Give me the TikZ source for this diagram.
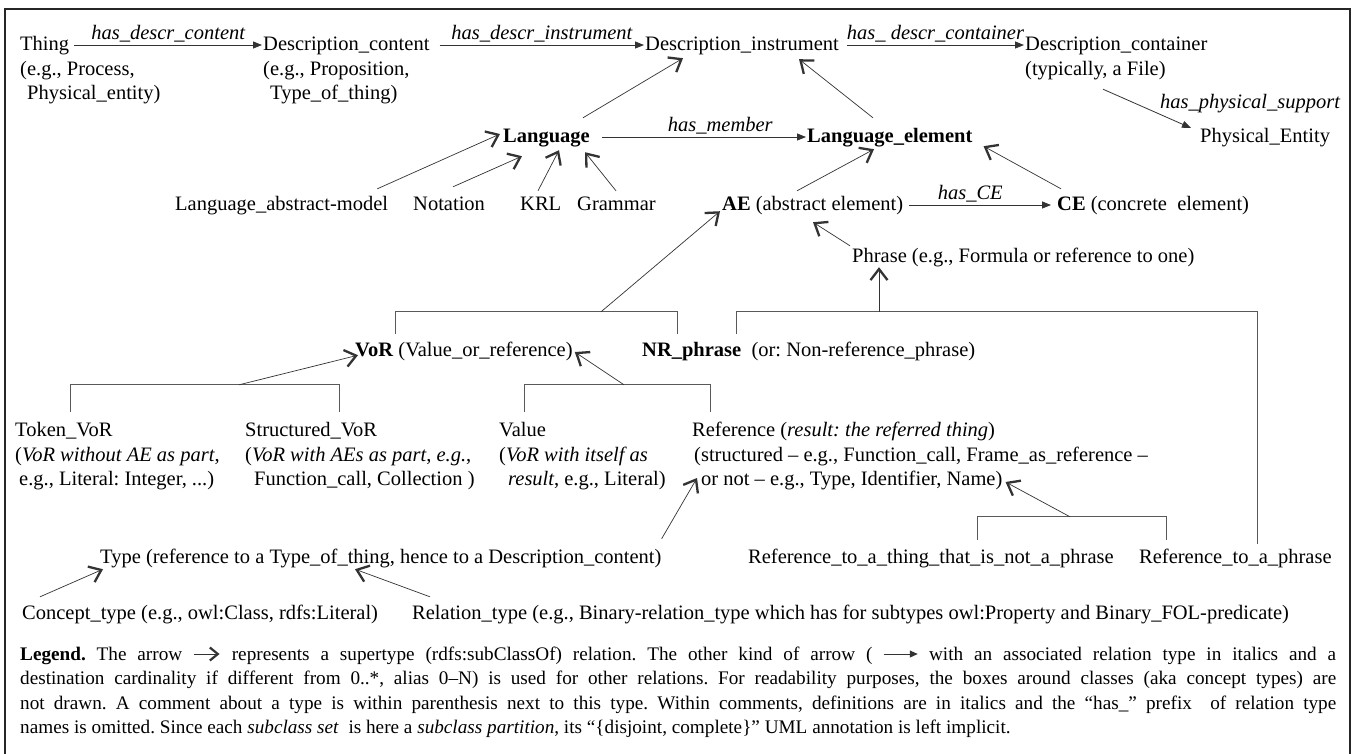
\documentclass[tikz,border=0pt]{standalone}
\usepackage{fontspec}
\setmainfont{Liberation Serif}
\usetikzlibrary{arrows.meta,calc}
\begin{document}
\begin{tikzpicture}[x=1pt,y=-1pt,font=\fontsize{20.5}{24.5}\selectfont\frenchspacing,
  tx/.style={anchor=base west,inner sep=0pt,text height=15pt,text depth=5pt},
  lbl/.style={font=\fontsize{20.5}{24.5}\selectfont\itshape,inner sep=1pt},
  rel/.style={draw=black!80,line width=0.8pt,-{Triangle[length=9pt,width=7pt]}},
  sub/.style={draw=black!80,line width=0.7pt,-{Straight Barb[length=11pt,width=17pt,line width=2.3pt]}},
  brk/.style={draw=black!65,line width=0.9pt}]
\useasboundingbox (0,0) rectangle (1354,753);
\fill[white] (0,0) rectangle (1354,753);
\draw[line width=2.6pt,black!85] (5,770) -- (5,9) -- (1350,9) -- (1350,770);

% row 1
\node[tx] (thing) at (20,50) {Thing};
\node[tx] (thingA) at (20,75) {(e.g., Process,};
\node[tx] (thingB) at (27,99) {Physical\_entity)};
\node[tx] (dc) at (263,50) {Description\_content};
\node[tx] (dcA) at (263,75) {(e.g., Proposition,};
\node[tx] (dcB) at (270,99) {Type\_of\_thing)};
\node[tx] (di) at (645,50) {Description\_instrument};
\node[tx] (dcont) at (1025,50) {Description\_container};
\node[tx] (dcontA) at (1025,75) {(typically, a File)};
\node[tx] (pe) at (1200,142) {Physical\_Entity};

\draw[rel] ([xshift=5pt]thing.east) -- ([xshift=-1pt]thing.east -| dc.west)
  node[midway,above=1pt,lbl]{has\_descr\_content};
\draw[rel] ([xshift=10pt]dc.east) -- ([xshift=-1pt]dc.east -| di.west)
  node[midway,above=1pt,lbl]{has\_descr\_instrument};
\draw[rel] ([xshift=8pt]di.east) -- ([xshift=-1pt]di.east -| dcont.west)
  node[midway,above=1pt,lbl]{has\_ descr\_container};
\draw[rel] ([shift={(78,9)}]dcontA.south west) -- ([shift={(-9,-9)}]pe.west)
  node[pos=1,anchor=south,lbl,xshift=59pt,yshift=14pt]{has\_physical\_support};

% row 2
\node[tx] (lang) at (503,142) {\textbf{Language}};
\node[tx] (le) at (807,142) {\textbf{Language\_element}};
\draw[rel] ([xshift=12pt]lang.east) -- ([xshift=-1pt]lang.east -| le.west)
  node[pos=0.58,above=1pt,lbl]{has\_member};
\draw[sub] ([shift={(-7,-9)}]lang.north east) -- ([shift={(38,3)}]di.south west);
\draw[sub] ([shift={(66,-9)}]le.north west) -- ([shift={(154,4)}]di.south west);

% row 3
\node[tx] (lam) at (175,210) {Language\_abstract-model};
\node[tx] (notation) at (413,210) {Notation};
\node[tx] (krl) at (520,210) {KRL};
\node[tx] (grammar) at (577,210) {Grammar};
\node[tx] (ae) at (722,210) {\textbf{AE} (abstract element)};
\node[tx] (ce) at (1057,210) {\textbf{CE} (concrete\ \ element)};
\draw[sub] ([shift={(-11,-6)}]lam.north east) -- ([shift={(-3,-3)}]lang.west);
\draw[sub] ([shift={(40,-8)}]notation.north west) -- ([shift={(19,9)}]lang.south west);
\draw[sub] ([shift={(18,-4)}]krl.north west) -- ([shift={(56,3)}]lang.south west);
\draw[sub] ([shift={(39,-4)}]grammar.north west) -- ([shift={(82,5)}]lang.south west);
\draw[sub] ([shift={(75,-4)}]ae.north west) -- ([shift={(67,2)}]le.south west);
\draw[sub] ([shift={(4,-6)}]ce.north west) -- ([shift={(11,-1)}]le.south east);
\draw[rel] ([xshift=6pt]ae.east) -- ([xshift=-6pt]ae.east -| ce.west)
  node[pos=0.43,above=1pt,lbl]{has\_CE};

% phrase
\node[tx] (phrase) at (852,262) {Phrase (e.g., Formula or reference to one)};
\draw[sub] ([shift={(-2,-1)}]phrase.north west) -- ([shift={(91,7)}]ae.south west);

% VoR row
\node[tx] (vor) at (355,356) {\textbf{VoR} (Value\_or\_reference)};
\node[tx] (nr) at (642,356) {\textbf{NR\_phrase}\ \ (or: Non-reference\_phrase)};
\coordinate (vorfork) at ([shift={(246,-29)}]vor.north west);
\draw[brk] ([shift={(40,-7)}]vor.north west) -- ([shift={(40,-29)}]vor.north west)
  -- ([shift={(35,-29)}]nr.north west) -- ([shift={(35,-7)}]nr.north west);
\draw[sub] (vorfork) -- ([shift={(-2,-4)}]ae.south west);

% Token row
\node[tx] (tok1) at (15,436) {Token\_VoR};
\node[tx] (tok2) at (15,461) {(\textit{VoR without AE as part},};
\node[tx] (tok3) at (19,485) {e.g., Literal: Integer, ...)};
\node[tx] (str1) at (245,436) {Structured\_VoR};
\node[tx] (str2) at (245,461) {(\textit{VoR with AEs as part}, \textit{e.g.},};
\node[tx] (str3) at (254,485) {Function\_call, Collection )};
\node[tx] (val1) at (499,436) {Value};
\node[tx] (val2) at (499,461) {(\textit{VoR with itself as}};
\node[tx] (val3) at (508,485) {\textit{result}, e.g., Literal)};
\node[tx] (ref1) at (692,436) {Reference (\textit{result: the referred thing})};
\node[tx] (ref2) at (694,461) {(structured – e.g., Function\_call, Frame\_as\_reference –};
\node[tx] (ref3) at (701,485) {or not – e.g., Type, Identifier, Name)};

% bracket NR / Reference_to_a_phrase
\node[tx] (rtnp) at (748,563) {Reference\_to\_a\_thing\_that\_is\_not\_a\_phrase};
\node[tx] (rtp) at (1139,563) {Reference\_to\_a\_phrase};
\coordinate (nrfork) at ([shift={(237,-29)}]nr.north west);
\draw[brk] ([shift={(94,-7)}]nr.north west) -- ([shift={(94,-29)}]nr.north west)
  -- ([shift={(118,-29)}]nr.north west -| rtp.north west) -- ([shift={(118,-4)}]rtp.north west);
\draw[sub] (nrfork) -- (nrfork |- phrase.south);

% brackets Token/Structured and Value/Reference
\coordinate (tokfork) at ([shift={(224,-36)}]tok1.north west);
\draw[brk] ([shift={(55,-9)}]tok1.north west) -- ([shift={(55,-36)}]tok1.north west)
  -- ([shift={(94,-36)}]str1.north west) -- ([shift={(94,-9)}]str1.north west);
\draw[sub] (tokfork) -- ([shift={(3,-6)}]vor.south west);
\coordinate (valfork) at ([shift={(125,-36)}]val1.north west);
\draw[brk] ([shift={(25,-9)}]val1.north west) -- ([shift={(25,-36)}]val1.north west)
  -- ([shift={(18,-36)}]ref1.north west) -- ([shift={(18,-9)}]ref1.north west);
\draw[sub] (valfork) -- ([shift={(2,1)}]vor.east);

% bracket Reference_to...
\coordinate (rtfork) at ([shift={(322,-31)}]rtnp.north west);
\draw[brk] ([shift={(229,-8)}]rtnp.north west) -- ([shift={(229,-31)}]rtnp.north west)
  -- ([shift={(27,-31)}]rtp.north west) -- ([shift={(27,-8)}]rtp.north west);
\draw[sub] (rtfork) -- ([shift={(3,2)}]ref3.east);

% Type row
\node[tx] (type) at (100,563) {Type (reference to a Type\_of\_thing, hence to a Description\_content)};
\draw[sub] ([shift={(0,-9)}]type.north east) -- ([shift={(-4,-2)}]ref3.west);
\node[tx] (concept) at (22,619) {Concept\_type (e.g., owl:Class, rdfs:Literal)};
\node[tx] (reltype) at (412,619) {Relation\_type (e.g., Binary-relation\_type which has for subtypes owl:Property and Binary\_FOL-predicate)};
\draw[sub] ([shift={(18,-7)}]concept.north west) -- ([shift={(3,1)}]type.south west);
\draw[sub] ([shift={(18,-7)}]reltype.north west) -- ([shift={(255,1)}]type.south west);

% legend
\node[anchor=base west,inner sep=0pt] (legend) at (20,660) {\parbox[t]{1316pt}{\fontsize{19.2}{24.5}\selectfont\frenchspacing
\textbf{Legend.} The arrow \tikz[x=1pt,y=1pt,baseline=0pt]\draw[draw=black!80,line width=0.9pt,-{Straight Barb[length=8pt,width=13pt,line width=2.2pt]}] (0,6) -- (26,6); represents a supertype (rdfs:subClassOf) relation. The other kind of arrow ( \tikz[x=1pt,y=1pt,baseline=0pt]\draw[draw=black!80,line width=0.9pt,-{Triangle[length=8pt,width=7pt]}] (0,6) -- (34,6); with an associated relation type in italics and a\linebreak
destination cardinality if different from 0..*, alias 0–N) is used for other relations. For readability purposes, the boxes around classes (aka concept types) are\linebreak
not drawn. A comment about a type is within parenthesis next to this type. Within comments, definitions are in italics and the “has\_” prefix\ \ of relation type\linebreak
names is omitted. Since each \textit{subclass set}\ \ is here a \textit{subclass partition}, its “\{disjoint, complete\}” UML annotation is left implicit.}};
\end{tikzpicture}
\end{document}
